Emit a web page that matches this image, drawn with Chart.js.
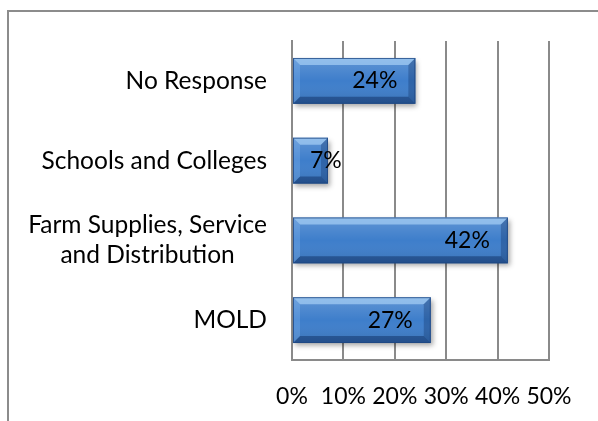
<!DOCTYPE html>
<html>
<head>
<meta charset="utf-8">
<script src="https://cdn.jsdelivr.net/npm/chart.js@4"></script>
<style>
    body { margin: 0; background: #fff; }
    #wrap { position: relative; width: 598px; height: 421px; }
    #frame { position: absolute; left: 7px; top: 10px; right: -10px; bottom: -10px;
             border-left: 2px solid #8c8c8c; border-top: 2px solid #8c8c8c; }
    #chart { position: absolute; left: 0; top: 0; }
</style>
</head>
<body>
<div id="wrap">
    <div id="frame"></div>
    <canvas id="chart" width="598" height="421"></canvas>
</div>
<script>
let categories = [['No Response'], ['Schools and Colleges'], ['Farm Supplies, Service', 'and Distribution'], ['MOLD']];
let shares = [24, 7, 42, 27];
let tickValues = [0, 10, 20, 30, 40, 50];

let FONT = 'Lato';
let NUM_SIZE = 23;      // tick and value labels
let CAT_SIZE = 24.5;    // category names

// category names: right-aligned block, lines centred inside the block
let categoryLabels = {
    id: 'categoryLabels',
    afterDraw(chart) {
        let ctx = chart.ctx, yScale = chart.scales.y;
        let right = chart.chartArea.left - 25;
        ctx.save();
        ctx.font = CAT_SIZE + 'px ' + FONT;
        ctx.fillStyle = '#000';
        ctx.textBaseline = 'middle';
        ctx.textAlign = 'center';
        categories.forEach((lines, i) => {
            let widest = Math.max(...lines.map(l => ctx.measureText(l).width));
            let cx = right - widest / 2;
            let lineH = 30;
            let y0 = yScale.getPixelForValue(i) - (lines.length - 1) * lineH / 2;
            lines.forEach((l, j) => ctx.fillText(l, cx, y0 + j * lineH));
        });
        ctx.restore();
    }
};

// soft drop shadow under the bars
let barShadow = {
    id: 'barShadow',
    beforeDatasetsDraw(chart) {
        let ctx = chart.ctx;
        ctx.save();
        ctx.shadowColor = 'rgba(0,0,0,0.35)';
        ctx.shadowBlur = 5;
        ctx.shadowOffsetX = 2;
        ctx.shadowOffsetY = 3;
    },
    afterDatasetsDraw(chart) {
        chart.ctx.restore();
    }
};

// bevelled edges and the value label at the end of each bar
let barBevel = {
    id: 'barBevel',
    afterDatasetsDraw(chart) {
        let ctx = chart.ctx;
        let meta = chart.getDatasetMeta(0);
        meta.data.forEach((bar, i) => {
            let l = bar.base, r = bar.x, t = bar.y - bar.height / 2, b = bar.y + bar.height / 2;
            let bv = 7;
            let face = ctx.createLinearGradient(0, t, 0, b);
            face.addColorStop(0, 'rgba(255,255,255,0.18)');
            face.addColorStop(0.5, 'rgba(255,255,255,0)');
            face.addColorStop(1, 'rgba(0,0,0,0.12)');
            ctx.fillStyle = face;
            ctx.fillRect(l, t, r - l, b - t);

            let quad = (pts, fill) => {
                ctx.beginPath();
                ctx.moveTo(pts[0], pts[1]);
                for (let k = 2; k < pts.length; k += 2) ctx.lineTo(pts[k], pts[k + 1]);
                ctx.closePath();
                ctx.fillStyle = fill;
                ctx.fill();
            };
            quad([l, t, r, t, r - bv, t + bv, l + bv, t + bv], 'rgba(190,225,255,0.55)');
            quad([l, b, r, b, r - bv, b - bv, l + bv, b - bv], 'rgba(10,40,90,0.45)');
            quad([r, t, r, b, r - bv, b - bv, r - bv, t + bv], 'rgba(10,40,90,0.3)');
            quad([l, t, l, b, l + bv, b - bv, l + bv, t + bv], 'rgba(150,200,250,0.25)');
            ctx.strokeStyle = 'rgba(30,70,130,0.8)';
            ctx.lineWidth = 1;
            ctx.strokeRect(l + 0.5, t + 0.5, r - l - 1, b - t - 1);

            let text = shares[i] + '%';
            ctx.save();
            ctx.font = NUM_SIZE + 'px ' + FONT;
            ctx.fillStyle = '#000';
            ctx.textAlign = 'right';
            ctx.textBaseline = 'middle';
            let w = ctx.measureText(text).width;
            ctx.fillText(text, Math.max(r - 18, l + w + 17), bar.y);
            ctx.restore();
        });
    }
};

let chart = new Chart(document.querySelector('#chart'), {
    type: 'bar',
    data: {
        labels: categories,
        datasets: [{
            data: shares,
            backgroundColor: '#3e7ecb',
            borderWidth: 0,
            categoryPercentage: 1,
            barPercentage: 0.575
        }]
    },
    options: {
        indexAxis: 'y',
        responsive: false,
        animation: false,
        devicePixelRatio: 1,
        layout: { padding: { top: 41, right: 49, left: 0, bottom: 0 } },
        plugins: { legend: { display: false }, tooltip: { enabled: false } },
        scales: {
            x: {
                min: tickValues[0],
                max: tickValues[tickValues.length - 1],
                afterBuildTicks: scale => { scale.ticks = tickValues.map(v => ({ value: v })); },
                afterFit: scale => { scale.height = 61; },
                grid: { color: '#8a8a8a', lineWidth: 2, drawTicks: false },
                border: { color: '#8a8a8a', width: 2 },
                ticks: {
                    padding: 23,
                    color: '#000',
                    font: { family: FONT, size: NUM_SIZE },
                    callback: v => v + '%'
                }
            },
            y: {
                afterFit: scale => { scale.width = 292; },
                grid: { display: false },
                border: { color: '#8a8a8a', width: 2 },
                ticks: { display: false }
            }
        }
    },
    plugins: [categoryLabels, barShadow, barBevel]
});
</script>
</body>
</html>
